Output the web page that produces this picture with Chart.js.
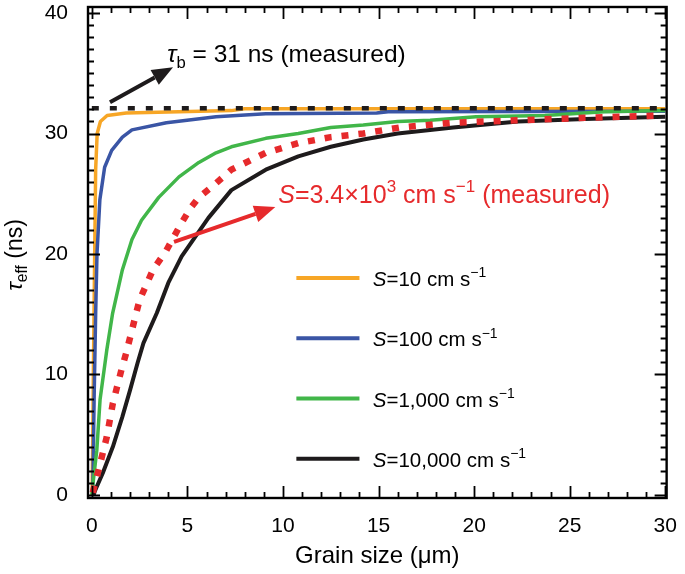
<!DOCTYPE html>
<html>
<head>
<meta charset="utf-8">
<script src="https://cdn.jsdelivr.net/npm/chart.js@4"></script>
<style>
  html, body { margin: 0; padding: 0; background: #fff; }
</style>
</head>
<body>
<canvas id="tauChart" width="685" height="574"></canvas>
<script>
// grain size (um) and tau_eff (ns)
const grainS10 = [0.02, 0.08, 0.15, 0.2, 0.28, 0.45, 0.8, 1.8, 7.3, 8, 30];
const tauS10   = [0, 10, 20, 27, 30, 31, 31.5, 31.7, 31.9, 32.05, 32.05];

const grainS100 = [0.05, 0.12, 0.2, 0.27, 0.42, 0.67, 1.04, 1.6, 2.1, 3.9, 6.5, 9.1, 14.9, 15.5, 30];
const tauS100   = [0, 8, 15, 20, 24.5, 27.2, 28.6, 29.7, 30.3, 30.9, 31.4, 31.65, 31.7, 31.8, 31.85];

const grainS1000 = [0, 0.1, 0.26, 0.43, 0.78, 1.09, 1.6, 2.1, 2.6, 3.5, 4.56, 5.6, 6.5, 7.3, 9.1, 10.8, 12.5, 14.2, 16, 17.7, 20.1, 23.7, 26.8, 30];
const tauS1000   = [0, 1.5, 3.7, 7.9, 12, 15.1, 18.7, 21.2, 22.8, 24.7, 26.4, 27.6, 28.4, 28.9, 29.6, 30.0, 30.5, 30.7, 31.0, 31.1, 31.4, 31.5, 31.8, 31.9];

const grainS10000 = [0.1, 0.15, 0.57, 1.1, 1.6, 2.0, 2.4, 2.7, 3.4, 4.0, 4.7, 5.4, 6.1, 7.3, 9.1, 10.8, 12.5, 14.2, 16, 18.9, 22.3, 25.8, 30];
const tauS10000   = [0, 0.3, 1.8, 4, 6.5, 8.7, 11, 12.6, 15.1, 17.6, 19.8, 21.4, 23.0, 25.3, 27.0, 28.1, 28.9, 29.5, 30.0, 30.5, 31.0, 31.2, 31.4];

const grainMeasured = [0.05, 0.31, 0.78, 1.1, 1.55, 1.8, 2.5, 3.2, 3.9, 4.7, 5.2, 5.6, 6.3, 7.3, 9.1, 10.8, 12.5, 14.2, 16.1, 18.9, 22.3, 25.8, 29.8];
const tauMeasured   = [0.2, 1.8, 4.8, 7.6, 10.4, 11.8, 16.2, 18.7, 20.3, 22.6, 23.9, 24.7, 25.6, 27.0, 28.4, 29.2, 29.7, 30.0, 30.5, 30.9, 31.1, 31.3, 31.5];

const grainBulk = [0, 30];
const tauBulk   = [32.1, 32.1];

const legendLabels = ['10', '100', '1,000', '10,000'];
const xTickLabels = [0, 5, 10, 15, 20, 25, 30];
const yTickLabels = [0, 10, 20, 30, 40];

const FONT = '"Liberation Sans", Arial, sans-serif';
const ORANGE = '#f7a626', BLUE = '#3a55a5', GREEN = '#41b649', BLACK = '#1e1b1c', RED = '#e62a2c';

function pts(xs, ys) {
  return xs.map((x, i) => ({ x: x, y: ys[i] }));
}

// draws text pieces: [text, mode] where mode is '', 'i', 'sup' or 'sub'
function richText(ctx, x, y, parts, size, color, measureOnly) {
  ctx.save();
  ctx.fillStyle = color;
  ctx.textAlign = 'left';
  ctx.textBaseline = 'alphabetic';
  let cx = x;
  parts.forEach(([t, m]) => {
    let s = size, dy = 0, style = '';
    if (m === 'i') style = 'italic ';
    if (m === 'sup') { s = size * 0.68; dy = -size * 0.42; }
    if (m === 'sub') { s = size * 0.68; dy = size * 0.22; }
    ctx.font = style + s + 'px ' + FONT;
    if (!measureOnly) ctx.fillText(t, cx, y + dy);
    cx += ctx.measureText(t).width;
  });
  ctx.restore();
  return cx - x;
}

function arrow(ctx, x1, y1, x2, y2, color) {
  const ang = Math.atan2(y2 - y1, x2 - x1);
  const head = 21, half = 8.5;
  const bx = x2 - head * Math.cos(ang), by = y2 - head * Math.sin(ang);
  ctx.save();
  ctx.strokeStyle = color;
  ctx.fillStyle = color;
  ctx.lineWidth = 4;
  ctx.beginPath();
  ctx.moveTo(x1, y1);
  ctx.lineTo(bx, by);
  ctx.stroke();
  ctx.beginPath();
  ctx.moveTo(x2, y2);
  ctx.lineTo(bx + half * Math.sin(ang), by - half * Math.cos(ang));
  ctx.lineTo(bx - half * Math.sin(ang), by + half * Math.cos(ang));
  ctx.closePath();
  ctx.fill();
  ctx.restore();
}

const decorPlugin = {
  id: 'decor',
  afterDatasetsDraw(chart) {
    const ctx = chart.ctx;
    const xs = chart.scales.x, ys = chart.scales.y;
    const { left, right, top, bottom } = chart.chartArea;

    // frame + inward ticks on all sides
    ctx.save();
    ctx.strokeStyle = '#000';
    ctx.lineWidth = 2.4;
    ctx.strokeRect(left, top, right - left, bottom - top);
    ctx.lineWidth = 1.8;
    ctx.beginPath();
    for (let v = 0; v <= 30; v++) {
      const px = Math.round(xs.getPixelForValue(v)) + 0.5;
      const len = v % 5 === 0 ? 12 : 6;
      ctx.moveTo(px, bottom); ctx.lineTo(px, bottom - len);
      ctx.moveTo(px, top); ctx.lineTo(px, top + len);
    }
    for (let v = 0; v <= 40; v++) {
      const py = Math.round(ys.getPixelForValue(v)) + 0.5;
      const len = v % 10 === 0 ? 12 : 6;
      ctx.moveTo(left, py); ctx.lineTo(left + len, py);
      ctx.moveTo(right, py); ctx.lineTo(right - len, py);
    }
    ctx.stroke();
    ctx.restore();

    // legend
    const colors = [ORANGE, BLUE, GREEN, BLACK];
    legendLabels.forEach((lab, i) => {
      const ly = ys.getPixelForValue(18.0 - i * 5.0);
      const lx1 = xs.getPixelForValue(10.7), lx2 = xs.getPixelForValue(14.0);
      ctx.save();
      ctx.strokeStyle = colors[i];
      ctx.lineWidth = 4;
      ctx.beginPath();
      ctx.moveTo(lx1, ly); ctx.lineTo(lx2, ly);
      ctx.stroke();
      ctx.restore();
      richText(ctx, xs.getPixelForValue(14.7), ly + 8,
        [['S', 'i'], ['=' + lab + ' cm s', ''], ['\u22121', 'sup']], 20.5, '#000');
    });

    // annotations
    arrow(ctx, xs.getPixelForValue(0.95), ys.getPixelForValue(32.6),
               xs.getPixelForValue(4.25), ys.getPixelForValue(35.5), BLACK);
    richText(ctx, xs.getPixelForValue(3.95), ys.getPixelForValue(35.9),
      [['\u03c4', 'i'], ['b', 'sub'], [' = 31 ns (measured)', '']], 24.5, '#000');

    arrow(ctx, xs.getPixelForValue(4.3), ys.getPixelForValue(21.0),
               xs.getPixelForValue(9.6), ys.getPixelForValue(23.9), RED);
    richText(ctx, xs.getPixelForValue(9.75), ys.getPixelForValue(24.25),
      [['S', 'i'], ['=3.4\u00d710', ''], ['3', 'sup'], [' cm s', ''], ['\u22121', 'sup'], [' (measured)', '']], 25, RED);

    // axis titles
    const xt = [['Grain size (\u03bcm)', '']];
    const wx = richText(ctx, 0, 0, xt, 24, '#000', true);
    richText(ctx, (left + right) / 2 - wx / 2, 563, xt, 24, '#000');

    const yt = [['\u03c4', 'i'], ['eff', 'sub'], [' (ns)', '']];
    const wy = richText(ctx, 0, 0, yt, 23, '#000', true);
    ctx.save();
    ctx.translate(22, 255);
    ctx.rotate(-Math.PI / 2);
    richText(ctx, -wy / 2, 0, yt, 23, '#000');
    ctx.restore();
  }
};

const ctx = document.getElementById('tauChart').getContext('2d');

const data = {
  datasets: [
    { label: 'bulk', data: pts(grainBulk, tauBulk), borderColor: BLACK, borderWidth: 4.5, borderDash: [7, 11] },
    { label: 'S=3.4e3', data: pts(grainMeasured, tauMeasured), borderColor: RED, borderWidth: 6.5, borderDash: [7, 10] },
    { label: 'S=10000', data: pts(grainS10000, tauS10000), borderColor: BLACK, borderWidth: 4 },
    { label: 'S=1000', data: pts(grainS1000, tauS1000), borderColor: GREEN, borderWidth: 3.5 },
    { label: 'S=100', data: pts(grainS100, tauS100), borderColor: BLUE, borderWidth: 3.5 },
    { label: 'S=10', data: pts(grainS10, tauS10), borderColor: ORANGE, borderWidth: 3.5 }
  ]
};

const options = {
  responsive: false,
  animation: false,
  showLine: true,
  layout: { padding: { top: 7, right: 12, left: 0, bottom: 0 } },
  elements: {
    point: { radius: 0, hoverRadius: 0 },
    line: { tension: 0, fill: false, borderCapStyle: 'butt', borderJoinStyle: 'round' }
  },
  plugins: {
    legend: { display: false },
    tooltip: { enabled: false }
  },
  scales: {
    x: {
      type: 'linear',
      min: -0.2,
      max: 30.07,
      grid: { display: false },
      border: { display: false },
      ticks: { font: { family: FONT, size: 21 }, color: '#000', padding: 8 },
      afterBuildTicks: s => { s.ticks = xTickLabels.map(v => ({ value: v })); },
      afterFit: s => { s.height = 76; }
    },
    y: {
      type: 'linear',
      min: -0.25,
      max: 40.5,
      grid: { display: false },
      border: { display: false },
      ticks: { font: { family: FONT, size: 21 }, color: '#000', padding: 12 },
      afterBuildTicks: s => { s.ticks = yTickLabels.map(v => ({ value: v })); },
      afterFit: s => { s.width = 88; s.paddingTop = 0; s.paddingBottom = 0; }
    }
  }
};

new Chart(ctx, {
  type: 'scatter',
  data: data,
  options: options,
  plugins: [decorPlugin]
});
</script>
</body>
</html>
